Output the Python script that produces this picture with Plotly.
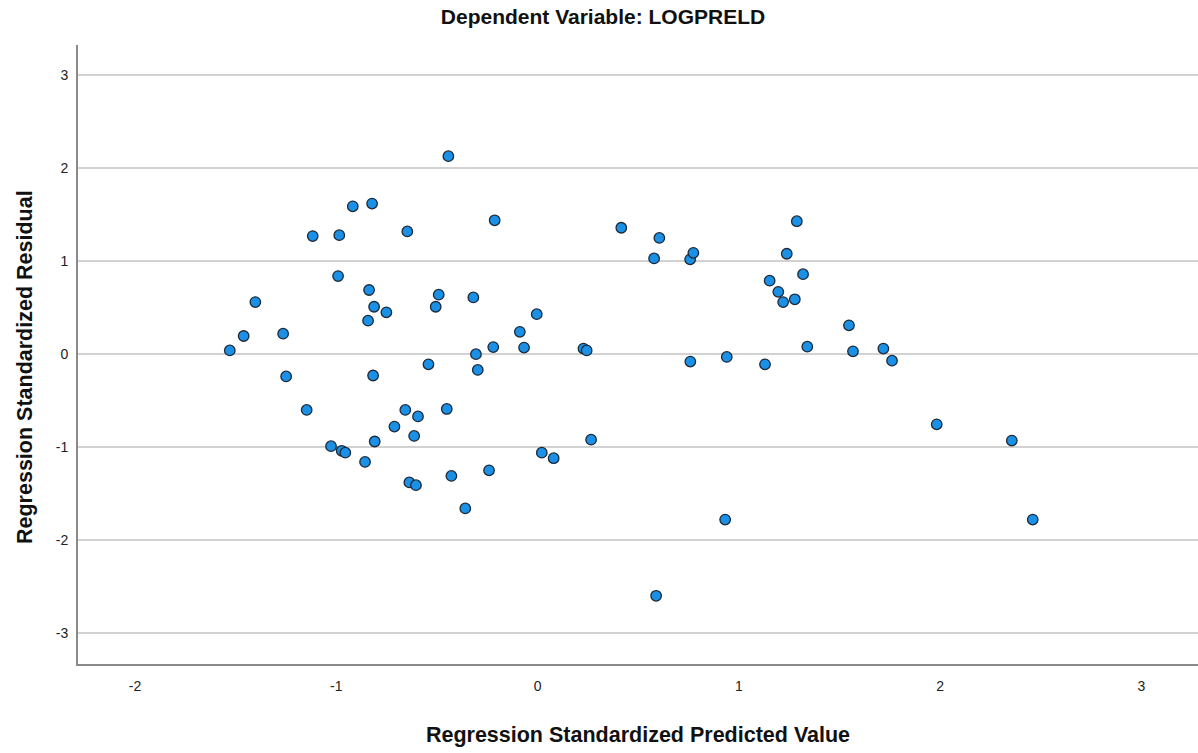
import plotly.graph_objects as go

# Regression standardized predicted values (x) and residuals (y)
pred = [-1.529, -1.46, -1.402, -1.264, -1.249, -1.147, -1.117, -1.026, -0.985, -0.991,
        -0.973, -0.955, -0.918, -0.857, -0.842, -0.837, -0.822, -0.817, -0.812, -0.809,
        -0.751, -0.711, -0.657, -0.647, -0.637, -0.604, -0.613, -0.594, -0.542, -0.506,
        -0.491, -0.451, -0.443, -0.428, -0.359, -0.319, -0.306, -0.297, -0.241, -0.22,
        -0.213, -0.088, -0.067, -0.004, 0.021, 0.080, 0.228, 0.244, 0.266,
        0.416, 0.579, 0.589, 0.605, 0.758, 0.774, 0.759, 0.94, 0.932, 1.13,
        1.153, 1.196, 1.22, 1.238, 1.278, 1.288, 1.319, 1.34, 1.547, 1.567,
        1.718, 1.761, 1.983, 2.356, 2.46]
resid = [0.04, 0.195, 0.56, 0.22, -0.24, -0.60, 1.27, -0.99, 1.28, 0.84,
         -1.04, -1.06, 1.59, -1.16, 0.36, 0.69, 1.62, -0.23, 0.51, -0.94,
         0.45, -0.78, -0.60, 1.32, -1.38, -1.41, -0.88, -0.67, -0.11, 0.51,
         0.64, -0.59, 2.13, -1.31, -1.66, 0.61, 0.00, -0.17, -1.25, 0.076,
         1.44, 0.24, 0.07, 0.43, -1.06, -1.12, 0.06, 0.04, -0.92,
         1.36, 1.03, -2.60, 1.25, 1.02, 1.09, -0.08, -0.03, -1.78, -0.11,
         0.79, 0.67, 0.56, 1.08, 0.59, 1.43, 0.86, 0.08, 0.31, 0.03,
         0.06, -0.07, -0.755, -0.93, -1.78]

x_ticks = [-2, -1, 0, 1, 2, 3]
y_ticks = [-3, -2, -1, 0, 1, 2, 3]

fig = go.Figure()
fig.add_trace(go.Scatter(
    x=pred, y=resid, mode="markers",
    marker=dict(size=10.5, color="#1a90e6", line=dict(color="#1c2a38", width=1.3)),
    showlegend=False, hoverinfo="x+y",
))

fig.update_layout(
    width=1198, height=753,
    margin=dict(l=78, r=0, t=45, b=89),
    paper_bgcolor="white", plot_bgcolor="white",
    font=dict(family="Liberation Sans, Arial, sans-serif", color="#222222"),
    title=dict(
        text="<b>Dependent Variable: LOGPRELD</b>",
        font=dict(family="Liberation Sans, Arial", size=21, color="#111111"),
        xref="container", yref="container",
        x=603 / 1198, y=1 - 17 / 753, xanchor="center", yanchor="middle",
    ),
    xaxis=dict(
        range=[-2.283, 3.281], tickvals=x_ticks, ticktext=[str(v) for v in x_ticks],
        showgrid=False, zeroline=False,
        showline=True, linecolor="#8a8a8a", linewidth=2,
        ticks="", ticklen=0, ticklabelstandoff=8,
        tickfont=dict(size=14, color="#222222"),
        title=dict(text="<b>Regression Standardized Predicted Value</b>",
                   font=dict(size=21.5, color="#111111"), standoff=34),
    ),
    yaxis=dict(
        range=[-3.334, 3.326], tickvals=y_ticks, ticktext=[str(v) for v in y_ticks],
        showgrid=True, gridcolor="#d2d2d2", gridwidth=2, zeroline=False,
        showline=True, linecolor="#8a8a8a", linewidth=2,
        ticks="", ticklen=0, ticklabelstandoff=5,
        tickfont=dict(size=14, color="#222222"),
    ),
    annotations=[dict(
        text="<b>Regression Standardized Residual</b>",
        font=dict(size=21.5, color="#111111"),
        xref="paper", yref="paper", textangle=-90,
        x=-(78 - 25) / 1120, y=(664 - 367) / 619,
        xanchor="center", yanchor="middle", showarrow=False,
    )],
)

fig.write_html("out.html")
